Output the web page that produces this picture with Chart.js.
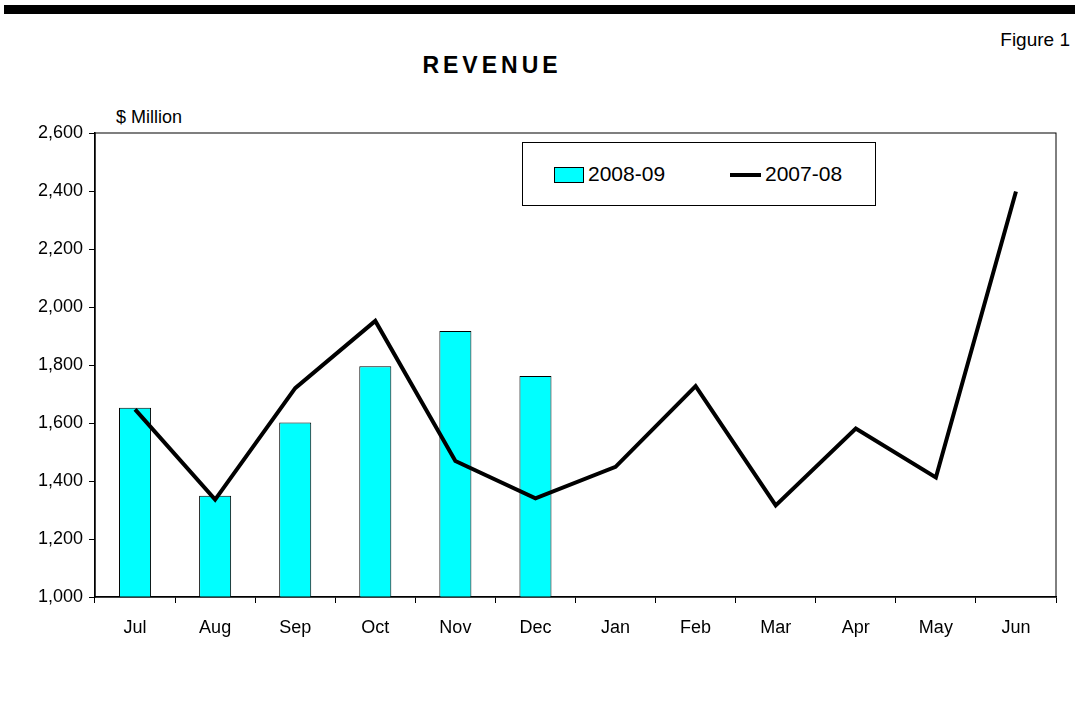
<!DOCTYPE html>
<html>
<head>
<meta charset="utf-8">
<script src="https://cdn.jsdelivr.net/npm/chart.js@4"></script>
<style>
    body { margin: 0; background: #fff; font-family: "Liberation Sans", Arial, sans-serif; }
    #wrap { position: relative; width: 1082px; height: 702px; }
    #topBar { position: absolute; left: 4px; top: 5px; width: 1071px; height: 9px; background: #000; }
    #figure { position: absolute; right: 12px; top: 29px; font-size: 19px; color: #000; }
    #title { position: absolute; left: 0; width: 984px; top: 52px; text-align: center; font-size: 23px; font-weight: bold; letter-spacing: 4px; }
    #unit { position: absolute; left: 116px; top: 107px; font-size: 18px; }
    #legend { position: absolute; left: 522px; top: 142px; width: 352px; height: 62px; border: 1.5px solid #000; background: #fff; font-size: 21px; }
    .item { position: absolute; top: 19px; line-height: 24px; }
    .swatch { display: inline-block; vertical-align: middle; margin-right: 4px; }
    canvas { position: absolute; left: 0; top: 0; }
</style>
</head>
<body>
<div id="wrap">
    <div id="topBar"></div>
    <div id="figure">Figure 1</div>
    <div id="title">REVENUE</div>
    <div id="unit">$ Million</div>
    <canvas id="chart" width="1082" height="702"></canvas>
    <div id="legend">
        <div class="item" style="left:31px"><span class="swatch" style="width:28px;height:14px;background:#00ffff;border:1px solid #000"></span>2008-09</div>
        <div class="item" style="left:207px"><span class="swatch" style="width:31px;height:4px;background:#000;margin-right:4px"></span>2007-08</div>
    </div>
</div>
<script>
const months = ['Jul', 'Aug', 'Sep', 'Oct', 'Nov', 'Dec', 'Jan', 'Feb', 'Mar', 'Apr', 'May', 'Jun'];
const revenue0809 = [1653, 1349, 1602, 1796, 1917, 1762, null, null, null, null, null, null];
const revenue0708 = [1647, 1336, 1720, 1952, 1469, 1340, 1449, 1727, 1316, 1581, 1412, 2398];
const yMin = 1000;
const yMax = 2600;
const yStep = 200;

// box round the plot area (top and right edges)
const frame = {
    id: 'frame',
    afterDraw(chart) {
        const a = chart.chartArea;
        const ctx = chart.ctx;
        ctx.save();
        ctx.strokeStyle = '#000';
        ctx.lineWidth = 1;
        ctx.strokeRect(a.left, a.top, a.right - a.left, a.bottom - a.top);
        ctx.restore();
    }
};

const chartCanvas = document.getElementById('chart');

new Chart(chartCanvas, {
    type: 'bar',
    data: {
        labels: months,
        datasets: [{
            type: 'line',
            label: '2007-08',
            data: revenue0708,
            borderColor: '#000',
            borderWidth: 4,
            pointRadius: 0,
            tension: 0,
            order: 0
        }, {
            label: '2008-09',
            data: revenue0809,
            backgroundColor: '#00ffff',
            borderColor: '#000',
            borderWidth: 1,
            borderSkipped: false,
            barPercentage: 0.4,
            categoryPercentage: 1,
            order: 1
        }]
    },
    options: {
        responsive: false,
        animation: false,
        layout: { padding: { left: 0, top: 133, right: 26, bottom: 0 } },
        plugins: {
            legend: { display: false },
            tooltip: { enabled: false }
        },
        scales: {
            x: {
                afterFit: (s) => { s.height = 105; },
                grid: { drawOnChartArea: false, tickLength: 6, color: '#000', offset: true },
                border: { color: '#000', width: 1.5 },
                ticks: { color: '#000', padding: 14, font: { family: 'Liberation Sans', size: 18 } }
            },
            y: {
                min: yMin,
                max: yMax,
                afterFit: (s) => { s.width = 95; },
                grid: { drawOnChartArea: false, tickLength: 6, color: '#000' },
                border: { color: '#000', width: 1.5 },
                ticks: {
                    stepSize: yStep,
                    color: '#000',
                    padding: 6,
                    font: { family: 'Liberation Sans', size: 18 },
                    callback: (v) => v.toLocaleString('en-US')
                }
            }
        }
    },
    plugins: [frame]
});
</script>
</body>
</html>
